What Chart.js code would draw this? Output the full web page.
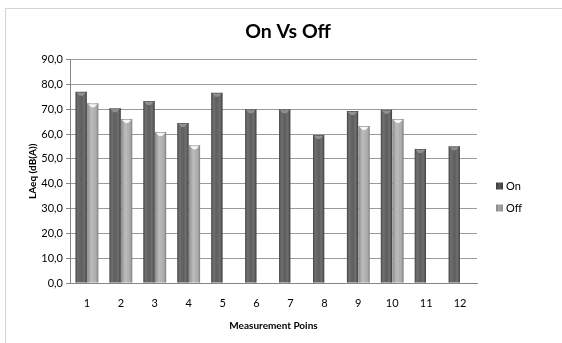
<!DOCTYPE html>
<html>
<head>
<meta charset="utf-8">
<script src="https://cdn.jsdelivr.net/npm/chart.js@4/dist/chart.umd.min.js"></script>
<style>
  html, body { margin: 0; padding: 0; background: #fff; }
  #wrap { position: relative; width: 562px; height: 343px; overflow: hidden; }
  #frame { position: absolute; left: 5px; top: 8px; width: 600px; height: 400px;
           border: 1px solid #d4d4d4; box-sizing: border-box; }
  canvas { position: absolute; left: 0; top: 0; }
</style>
</head>
<body>
<div id="wrap">
  <div id="frame"></div>
  <canvas id="c" width="562" height="343"></canvas>
</div>
<script>
// Measurement points and LAeq levels (dB(A)) with the equipment on and off
const points = ['1', '2', '3', '4', '5', '6', '7', '8', '9', '10', '11', '12'];
const onLevels = [77.0, 70.4, 73.3, 64.4, 76.6, 70.0, 70.0, 59.6, 69.3, 69.8, 54.0, 55.1];
const offLevels = [72.4, 66.0, 60.8, 55.5, null, null, null, null, 63.2, 66.0, null, null];
const yTicks = [0, 10, 20, 30, 40, 50, 60, 70, 80, 90];
const chartTitle = 'On Vs Off';

const FONT = 'Lato, "Open Sans", sans-serif';
const SERIES_COLORS = ['#575757', '#a6a6a6'];

// Cylinder-like shading over each bar, using the bar geometry from the library
const barShade = {
  id: 'barShade',
  afterDatasetsDraw(chart) {
    const ctx = chart.ctx;
    chart.data.datasets.forEach((ds, di) => {
      const meta = chart.getDatasetMeta(di);
      meta.data.forEach((bar, i) => {
        if (ds.data[i] == null) return;
        const { x, y, base, width } = bar.getProps(['x', 'y', 'base', 'width'], true);
        const l = x - width / 2, r = x + width / 2;
        const g = ctx.createLinearGradient(l, 0, r, 0);
        if (di === 0) {
          g.addColorStop(0, 'rgba(40,40,40,0.55)');
          g.addColorStop(0.35, 'rgba(255,255,255,0.08)');
          g.addColorStop(0.6, 'rgba(255,255,255,0.05)');
          g.addColorStop(1, 'rgba(30,30,30,0.6)');
        } else {
          g.addColorStop(0, 'rgba(80,80,80,0.35)');
          g.addColorStop(0.4, 'rgba(255,255,255,0.25)');
          g.addColorStop(0.65, 'rgba(255,255,255,0.1)');
          g.addColorStop(1, 'rgba(70,70,70,0.45)');
        }
        ctx.save();
        ctx.fillStyle = g;
        ctx.fillRect(l, y, width, base - y);
        // top cap
        const capH = 3;
        ctx.fillStyle = di === 0 ? 'rgba(150,150,150,0.9)' : 'rgba(250,250,250,0.95)';
        ctx.beginPath();
        ctx.moveTo(l + 1, y + 1);
        ctx.lineTo(r - 1, y + 1);
        ctx.lineTo(x + 1.5, y + capH + 1);
        ctx.lineTo(x - 1.5, y + capH + 1);
        ctx.closePath();
        ctx.fill();
        ctx.restore();
      });
    });
  }
};

// Chart heading centred on the whole frame, and series key right of the plot
const frameText = {
  id: 'frameText',
  afterDraw(chart) {
    const ctx = chart.ctx;
    ctx.save();
    ctx.fillStyle = '#000';
    ctx.textAlign = 'center';
    ctx.textBaseline = 'middle';
    ctx.font = 'bold 19.5px ' + FONT;
    ctx.fillText(chartTitle, 288, 32);

    const x0 = chart.chartArea.right + 19;
    const yMid = 197;
    ctx.textAlign = 'left';
    ctx.font = '11px ' + FONT;
    chart.data.datasets.forEach((ds, di) => {
      const cy = yMid + (di - 0.5) * 22;
      const g = ctx.createLinearGradient(x0, 0, x0 + 7, 0);
      const edge = di === 0 ? '#3a3a3a' : '#8a8a8a';
      g.addColorStop(0, edge);
      g.addColorStop(0.5, SERIES_COLORS[di]);
      g.addColorStop(1, edge);
      ctx.fillStyle = g;
      ctx.fillRect(x0, cy - 3.5, 7, 7);
      ctx.fillStyle = '#000';
      ctx.fillText(ds.label, x0 + 10, cy);
    });
    ctx.restore();
  }
};

new Chart(document.getElementById('c'), {
  type: 'bar',
  data: {
    labels: points,
    datasets: [
      { label: 'On', data: onLevels, backgroundColor: SERIES_COLORS[0], borderWidth: 0 },
      { label: 'Off', data: offLevels, backgroundColor: SERIES_COLORS[1], borderWidth: 0 }
    ]
  },
  options: {
    responsive: false,
    animation: false,
    devicePixelRatio: 1,
    layout: { padding: { left: 8, right: 85, top: 59.5, bottom: 8 } },
    datasets: { bar: { categoryPercentage: 0.68, barPercentage: 0.97 } },
    plugins: {
      title: { display: false },
      legend: { display: false },
      tooltip: { enabled: false }
    },
    scales: {
      x: {
        afterFit: s => { s.height = 52; },
        grid: { display: false, drawTicks: false },
        border: { color: '#868686' },
        ticks: { color: '#000', font: { family: FONT, size: 11 }, padding: 14 },
        title: {
          display: true, text: 'Measurement Poins', color: '#000',
          font: { family: FONT, size: 10, weight: 'bold' }, padding: { top: 0, bottom: 3 }
        }
      },
      y: {
        min: 0, max: 90,
        afterFit: s => { s.width = 62; },
        afterBuildTicks: s => { s.ticks = yTicks.map(v => ({ value: v })); },
        grid: { color: '#9a9a9a', lineWidth: 1, tickLength: 4, tickColor: '#868686' },
        border: { color: '#868686' },
        ticks: {
          color: '#000', font: { family: FONT, size: 11 }, padding: 3,
          callback: v => v.toFixed(1).replace('.', ',')
        },
        title: {
          display: true, text: 'LAeq (dB(A))', color: '#000',
          font: { family: FONT, size: 10, weight: 'bold' }, padding: { top: 19, bottom: 0 }
        }
      }
    }
  },
  plugins: [barShade, frameText]
});
</script>
</body>
</html>
